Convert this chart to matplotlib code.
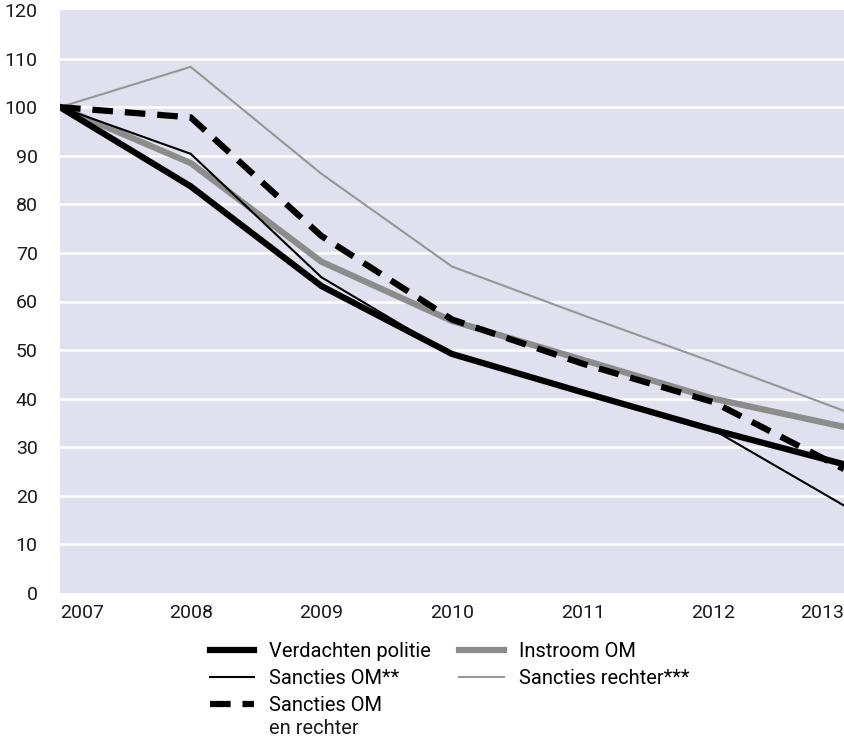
import matplotlib.pyplot as plt
import numpy as np

plt.rcParams['font.family'] = ['Roboto', 'DejaVu Sans']

years = [2007, 2008, 2009, 2010, 2011, 2012, 2013]

verdachten_politie = [100, 83.7, 63.2, 49.2, 41.3, 33.6, 26.5]
sancties_om = [100, 90.4, 65.0, 49.0, 41.0, 33.6, 18.0]
sancties_om_rechter = [100, 97.9, 73.5, 56.3, 47.2, 39.3, 25.5]
instroom_om = [100, 88.5, 68.2, 56.0, 48.0, 40.0, 34.2]
sancties_rechter = [100, 108.3, 86.3, 67.2, 57.2, 47.5, 37.5]

yticks = list(range(0, 121, 10))

fig = plt.figure(figsize=(8.45, 7.41), dpi=100)
ax = fig.add_axes([60/845, 1 - 593/741, 784/845, 583/741])
ax.set_facecolor('#e0e0ee')

# white gridlines
for y in yticks[1:-1]:
    ax.axhline(y, color='white', lw=1.8, zorder=1)

ax.plot(years, sancties_rechter, color='#969696', lw=1.5, zorder=2,
        label='Sancties rechter***')
ax.plot(years, instroom_om, color='#8c8c8c', lw=4.5, zorder=3,
        label='Instroom OM')
ax.plot(years, verdachten_politie, color='black', lw=4.5, zorder=4,
        label='Verdachten politie')
ax.plot(years, sancties_om, color='black', lw=1.5, zorder=5,
        label='Sancties OM**')
ax.plot(years, sancties_om_rechter, color='black', lw=4.5, zorder=6,
        dashes=(3.3, 1.9), dash_capstyle='butt', label='Sancties OM')

ax.set_xlim(2007, 2013)
ax.set_ylim(0, 120)
ax.set_yticks(yticks)
ax.set_xticks(years)
ax.tick_params(length=0, labelsize=14, colors='#1a1a1a')
ax.tick_params(axis='y', pad=16)
ax.tick_params(axis='x', pad=8)
xl = ax.get_xticklabels()
xl[0].set_ha('left')
xl[-1].set_ha('right')
for s in ax.spines.values():
    s.set_visible(False)

handles, labels = ax.get_legend_handles_labels()
order = ['Verdachten politie', 'Sancties OM**', 'Sancties OM',
         'Instroom OM', 'Sancties rechter***']
hmap = dict(zip(labels, handles))
leg = fig.legend([hmap[k] for k in order], order, ncol=2, frameon=False,
                 loc='upper left', bbox_to_anchor=(210/845, 1 - 642/741),
                 borderpad=0, fontsize=14.5, handlelength=2.2, handletextpad=0.75,
                 columnspacing=1.4, labelspacing=0.4, borderaxespad=0)

# second line of the dashed-series label, under "Sancties OM"
fig.canvas.draw()
bb = leg.get_texts()[2].get_window_extent()
fig.text(bb.x0 / fig.bbox.width, (bb.y0 - 23) / fig.bbox.height, 'en rechter',
         fontsize=14.5, color='#1a1a1a', ha='left', va='bottom')

fig.savefig('out.png', dpi=100)
